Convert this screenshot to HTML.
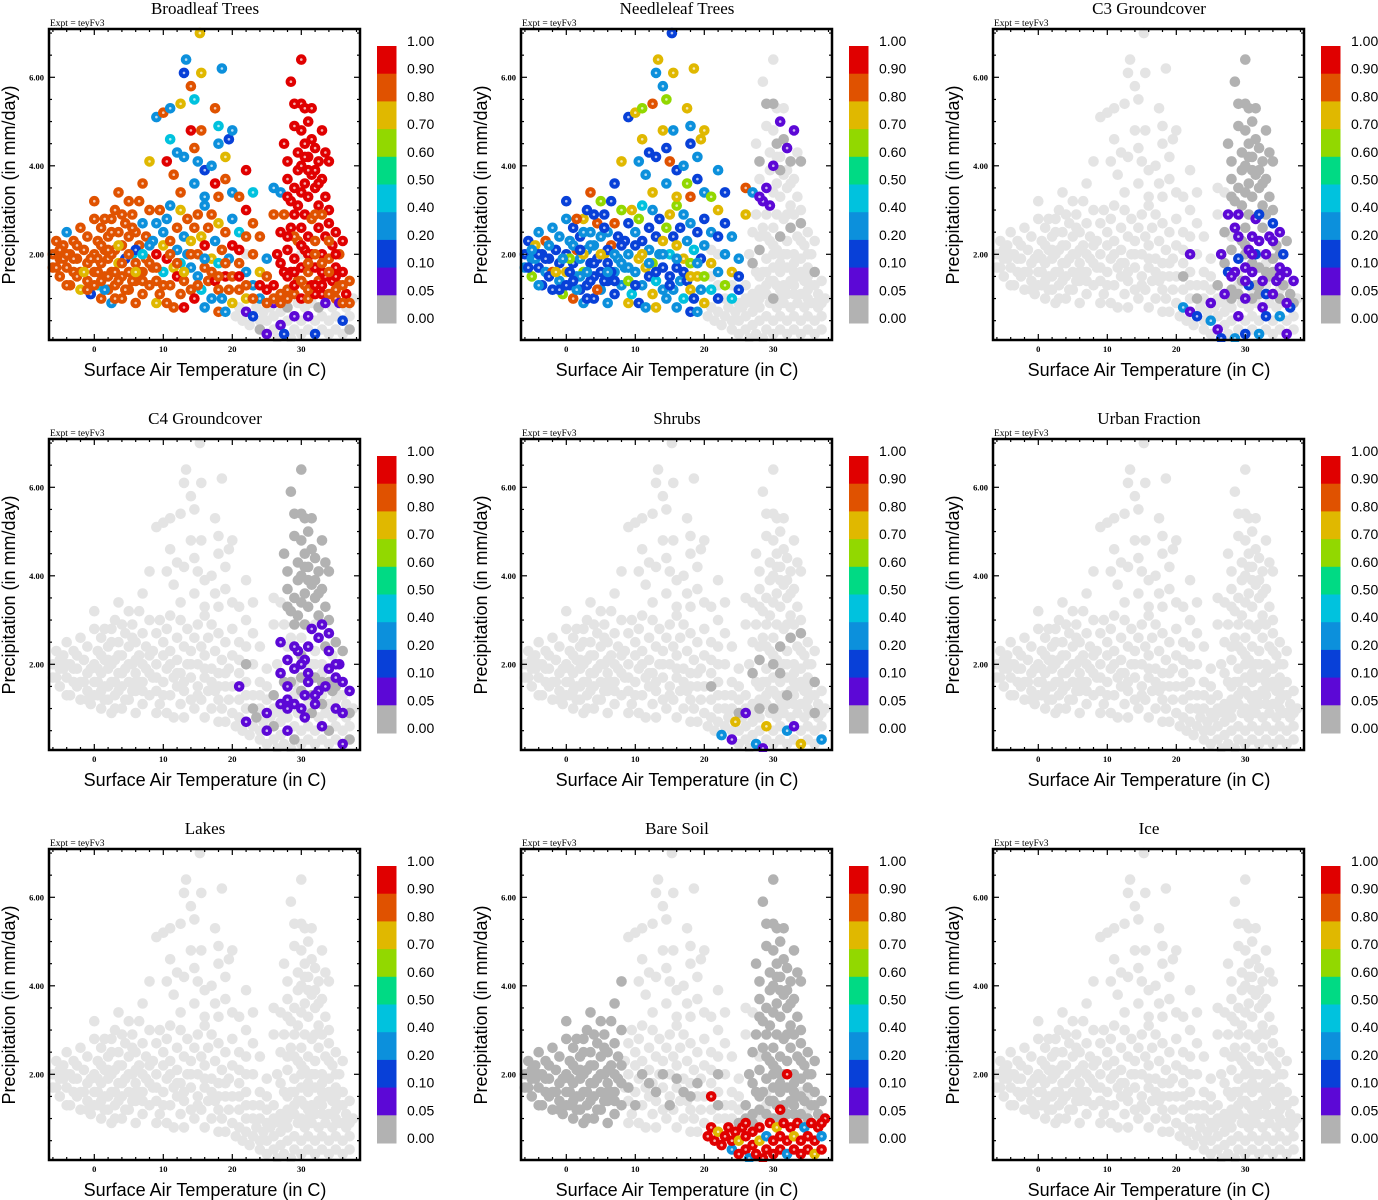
<!DOCTYPE html>
<html><head><meta charset="utf-8"><style>
html,body{margin:0;padding:0;background:#fff;}
svg{display:block;}
</style></head><body>
<svg id="chart" width="1378" height="1200" viewBox="0 0 1378 1200" xmlns="http://www.w3.org/2000/svg"></svg>
<script>
// ---- data ----
const panelTitles=["Broadleaf Trees","Needleleaf Trees","C3 Groundcover","C4 Groundcover","Shrubs","Urban Fraction","Lakes","Bare Soil","Ice"];
const colorbarLabels=["1.00","0.90","0.80","0.70","0.60","0.50","0.40","0.20","0.10","0.05","0.00"];
const xTicks=[0,10,20,30];
const yTicks=[2,4,6];
const yTickLabels=["2.00","4.00","6.00"];
const groupLeft=[[-6,2.0],[-6,1.7],[-5.5,2.3],[-5,1.9],[-5,1.5],[-4.5,2.2],[-4,1.7],[-4,2.5],[-3.5,1.3],[-3.5,2.0],[-3,1.6],[-3,2.3],[-2.5,1.9],[-2,1.2],[-2,2.6],[-2,1.6],[-1.5,2.1],[-1,1.4],[-1,1.8],[-1,2.4],[-0.5,1.1],[0,1.6],[0,2.0],[0,2.8],[0,3.2],[0.5,1.3],[0.5,2.3],[1,1.0],[1,1.8],[1,2.6],[1.5,1.5],[1.5,2.1],[2,1.2],[2,1.9],[2,2.4],[2.5,0.9],[2.5,1.6],[2.5,2.8],[3,1.3],[3,2.1],[3,3.0],[3.5,1.8],[3.5,2.5],[3.5,3.4],[4,1.0],[4,1.5],[4,2.2],[4.5,2.7],[4.5,1.9],[5,1.2],[5,1.6],[5,2.4],[5,3.2],[5.5,2.0],[5.5,2.9],[6,0.9],[6,1.4],[6,1.8],[6,2.5],[6.5,2.2],[6.5,3.2],[7,1.1],[7,1.6],[7,2.7],[7,3.6],[7.5,1.9],[7.5,2.4],[8,1.3],[8,3.0],[8,4.1],[-1,1.2],[1,2.2],[3,1.0],[-3,1.9],[2,1.5],[4.5,1.2],[6,2.1],[0,1.3],[-4.5,1.9],[1.5,2.8],[5.5,1.4],[7,2.0],[3.5,1.4],[-2.5,2.2],[0.5,1.9],[2.5,2.0],[-4,2.0],[-5,2.1],[4,2.9],[6.5,1.6]];
const groupMid=[[8.5,1.7],[8.5,2.3],[9,0.9],[9,1.4],[9,2.0],[9,2.7],[9.5,1.1],[9.5,3.0],[10,1.6],[10,2.2],[10,2.5],[10.5,0.9],[10.5,1.9],[10.5,2.8],[11,1.3],[11,2.3],[11,3.1],[11.5,1.7],[11.5,0.8],[12,1.5],[12,2.1],[12,2.6],[12.5,1.1],[12.5,1.8],[12.5,3.0],[13,2.4],[13,1.4],[13,0.8],[13.5,2.0],[13.5,2.8],[14,1.2],[14,1.7],[14,2.3],[14.5,2.6],[14.5,1.0],[15,1.5],[15,2.0],[15,2.9],[15.5,1.2],[15.5,2.4],[16,0.8],[16,1.7],[16,2.2],[16,3.1],[16.5,1.4],[16.5,2.6],[17,1.0],[17,1.9],[17,2.9],[17.5,1.4],[17.5,2.3],[18,0.7],[18,1.2],[18,1.8],[18,2.7],[18.5,1.0],[18.5,2.1],[19,1.5],[19,0.7],[19,2.5],[19.5,1.2],[19.5,1.9],[20,0.9],[20,1.5],[20,2.2],[20,2.8],[21,1.2],[21,1.8],[21,2.5],[22,1.0],[22,1.6],[22,2.4],[22,3.0],[23,1.3],[23,2.0],[23,2.7],[24,1.0],[24,1.6],[24,2.4],[25,1.2],[25,1.9],[25,1.5]];
const groupUpper=[[9,5.1],[10,5.2],[10.5,4.1],[11,4.6],[11,5.3],[11.5,3.8],[12,4.3],[12.5,5.4],[12.5,3.4],[13,6.1],[13,4.2],[13.3,6.4],[14,5.8],[14,4.8],[14.5,5.5],[14.5,3.6],[14.5,4.4],[15,4.1],[15.5,6.1],[15.5,4.8],[16,3.9],[16,3.3],[17,4.0],[17.5,5.3],[17.5,3.6],[18,4.9],[18,4.5],[18,3.3],[18.5,6.2],[19,4.2],[19,3.7],[19.5,4.6],[20,3.4],[20,4.8],[21,3.3],[22,3.9],[23,3.4],[26,3.5],[26,2.9],[27,3.4],[15.3,7.0]];
const groupLobeTop=[[27.5,4.5],[28,4.1],[28,3.7],[28.5,3.2],[28.5,5.9],[29,5.4],[29,4.9],[29,3.5],[29.5,4.3],[29.5,3.9],[30,6.4],[30,5.4],[30,4.8],[30,4.0],[30.5,5.3],[30.5,4.5],[30.5,3.6],[31,5.0],[31,4.2],[31,3.3],[31.5,5.3],[31.5,4.6],[31.5,3.8],[32,4.4],[32,3.5],[32.5,4.1],[32.5,3.1],[33,4.8],[33,3.7],[33.5,4.3],[33.5,3.3],[34,4.1],[34,3.0],[29.5,3.1],[30,3.4],[31,3.9],[32,3.9],[28,3.3],[30.5,4.2],[32.5,3.6]];
const groupLobeMid=[[26,1.3],[26.5,2.0],[27,1.1],[27,2.5],[27.5,1.6],[27.5,2.9],[28,1.2],[28,2.1],[28.5,1.6],[28.5,2.6],[29,1.1],[29,1.9],[29,2.9],[29.5,1.4],[29.5,2.3],[30,1.0],[30,1.7],[30,2.6],[30.5,1.3],[30.5,2.1],[30.5,2.9],[31,1.0],[31,1.6],[31,2.4],[31.5,1.3],[31.5,2.0],[31.5,2.8],[32,1.1],[32,1.7],[32,2.3],[32.5,1.4],[32.5,2.6],[33,1.1],[33,2.0],[33,2.9],[33.5,1.5],[33.5,2.4],[34,1.1],[34,1.9],[34,2.7],[34.5,1.4],[34.5,2.2],[35,1.0],[35,1.7],[35,2.5],[35.5,1.3],[35.5,2.0],[36,1.6],[36,2.3],[36.5,1.1],[37,1.4],[28,1.5],[30,2.2],[32,2.9],[34,2.3],[27,1.8],[33,1.6],[31,2.0],[29,2.4],[35,2.0]];
const groupBottom=[[20.5,0.6],[21,0.8],[21.5,0.5],[22,0.7],[22.5,0.4],[23,0.6],[23.5,0.8],[24,0.3],[24,0.5],[24.5,0.7],[25,0.2],[25,0.5],[25.5,0.8],[26,0.3],[26,0.6],[26.5,0.1],[27,0.4],[27,0.7],[27.5,0.2],[28,0.5],[28,0.8],[28.5,0.1],[29,0.3],[29,0.6],[29.5,0.9],[30,0.2],[30,0.5],[30.5,0.8],[31,0.3],[31,0.6],[31.5,0.9],[32,0.2],[32,0.5],[32.5,0.8],[33,0.3],[33,0.6],[33.5,0.9],[34,0.2],[34,0.5],[34.5,0.8],[35,0.3],[35,0.6],[35.5,0.9],[36,0.2],[36,0.5],[36.5,0.8],[37,0.3],[37,0.6],[37.5,1.0],[26,0.9]];
const groupFillRight=[[27,0.9],[28,1.0],[29,1.3],[30,1.4],[31,1.2],[32,1.3],[33,1.3],[34,1.5],[35,1.2],[36,0.9],[36,1.3],[37,0.9],[29,1.6],[31,1.8],[33,1.8],[35,1.5],[28,2.4],[30,2.0],[32,2.0],[34,1.6],[26,1.0],[25,0.9],[24,1.3],[23,1.0],[22,1.3],[21,1.5],[21,2.1],[22,2.0]];
const groupFillLeft=[[-5.5,1.7],[-4,1.3],[-2.5,1.5],[-1.5,1.6],[-0.5,1.9],[0.5,1.6],[1.5,1.2],[2,2.1],[3,1.6],[4,1.8],[5,2.0],[6,1.6],[7,1.4],[8,1.8],[8,2.2],[9,1.7],[10,1.3],[11,2.0],[12,1.8],[13,1.6],[14,2.0],[15,1.3],[16,1.9],[17,1.6],[18,1.5],[19,1.8],[1,1.4],[3.5,2.2],[5.5,2.6],[2.5,2.5]];
// category codes per panel per group (cycled): L=not present, 0..9 = colorbar class
const catBroadleaf=["8888888388888788888828888488","837893884738938","38943837823","9","99899889","LLL1L2L0LL1LL","8898899L88","88878838"];
const catNeedleleaf=["2323672322382238","3276324732","2737632873","L0L1L0L1LL","LLLLLLL0","L","LLLL","2327323"];
const catC3=["L","L","L","0","0110210","L3L1L2LLLL","L0L1L0","L"];
const catC4=["L","L","L","0","0L11","LLL1LL0L","L1L0","L"];
const catShrubs=["L","L","L","L","LLLLLLL0","LLLL3LL1L7LLLL","L0LL","L"];
const catUrban=["L","L","L","L","L","L","L","L"];
const catLakes=["L","L","L","L","L","L","L","L"];
const catBareSoil=["0","L","L","0","0","99979993","0LL09L0","0"];
const catIce=["L","L","L","L","L","L","L","L"];
// ---- rendering ----
const groups=[groupLeft,groupMid,groupUpper,groupLobeTop,groupLobeMid,groupBottom,groupFillRight,groupFillLeft];
const panelCats=[catBroadleaf,catNeedleleaf,catC3,catC4,catShrubs,catUrban,catLakes,catBareSoil,catIce];
const classColors={L:"#e4e4e4","0":"#b2b2b2","1":"#5c08d6","2":"#0840d8","3":"#0c90dc","4":"#00c2de","5":"#00da84","6":"#92d800","7":"#e0b800","8":"#e05200","9":"#e00000"};
const barColors=["#e00000","#e05200","#e0b800","#92d800","#00da84","#00c2de","#0c90dc","#0840d8","#5c08d6","#b2b2b2"];
const NS="http://www.w3.org/2000/svg";
const svg=document.getElementById("chart");
function mk(tag,attrs,parent){const e=document.createElementNS(NS,tag);for(const k in attrs)e.setAttribute(k,attrs[k]);parent.appendChild(e);return e;}
const X0=49,X1=360,Y0=29,Y1=340;
function xs(t){return 94.3+t*6.9;}
function ys(p){return 254.3-(p-2)*44.25;}
const ox=[0,472,944],oy=[0,410,820];
panelTitles.forEach((title,pi)=>{
  const g=mk("g",{transform:`translate(${ox[pi%3]},${oy[Math.floor(pi/3)]})`},svg);
  
  
  const t=mk("text",{x:205,y:14,"text-anchor":"middle","font-family":"Liberation Serif, serif","font-size":"17"},g);t.textContent=title;
  
  
  const ex=mk("text",{x:50,y:26,"font-family":"Liberation Serif, serif","font-size":"9.5"},g);ex.textContent="Expt = teyFv3";
  
  
  const clip="clip"+pi;
  const cp=mk("clipPath",{id:clip},g);mk("rect",{x:X0-6,y:Y0-6,width:X1-X0+12,height:Y1-Y0+8},cp);
  const pg=mk("g",{"clip-path":`url(#${clip})`},g);
  
  
  const cats=panelCats[pi];
  const layers=[[],[],[]];
  groups.forEach((grp,gi)=>{const s=cats[gi];grp.forEach((pt,k)=>{const c=s[k%s.length];layers[c==="L"?0:(c==="0"?1:2)].push([pt,c]);});});
  layers.forEach(layer=>layer.forEach(([pt,c])=>{
    const cx=xs(pt[0]),cy=ys(pt[1]);
    const dot=mk("circle",{cx:cx.toFixed(1),cy:cy.toFixed(1),r:5.3,fill:classColors[c]},pg);
    
    
    if(c!=="L"&&c!=="0"){mk("circle",{cx:cx.toFixed(1),cy:cy.toFixed(1),r:1.3,fill:"#ffffff","fill-opacity":"0.7"},pg);}
  }));
  const tk=mk("g",{stroke:"#000","stroke-width":"1.2"},g);
  
  
  for(let v=-6;v<=38;v+=2){const x=xs(v);if(x<X0||x>X1)continue;const L=(v%10===0)?6:3;
    mk("line",{x1:x,y1:Y1,x2:x,y2:Y1-L},tk);mk("line",{x1:x,y1:Y0,x2:x,y2:Y0+L},tk);}
  for(let v=0;v<=7;v+=0.5){const y=ys(v);if(y<Y0||y>Y1)continue;const L=(v%2===0)?6:3;
    mk("line",{x1:X0,y1:y,x2:X0+L,y2:y},tk);mk("line",{x1:X1,y1:y,x2:X1-L,y2:y},tk);}
  mk("rect",{x:X0,y:Y0,width:X1-X0,height:Y1-Y0,fill:"none",stroke:"#000","stroke-width":"2.5"},g);
  xTicks.forEach(v=>{const e=mk("text",{x:xs(v),y:352,"text-anchor":"middle","font-family":"Liberation Serif, serif","font-size":"8.5","font-weight":"bold"},g);e.textContent=v;
    
    });
  yTicks.forEach((v,i)=>{const e=mk("text",{x:44,y:ys(v)+3,"text-anchor":"end","font-family":"Liberation Serif, serif","font-size":"8.5","font-weight":"bold"},g);e.textContent=yTickLabels[i];
    
    });
  const xt=mk("text",{x:205,y:376,"text-anchor":"middle","font-family":"Liberation Sans, sans-serif","font-size":"18"},g);xt.textContent="Surface Air Temperature (in C)";
  
  
  const yt=mk("text",{x:0,y:0,"text-anchor":"middle","font-family":"Liberation Sans, sans-serif","font-size":"18",transform:"translate(15,185) rotate(-90)"},g);yt.textContent="Precipitation (in mm/day)";
  
  
  const cb=mk("g",{},g);
  
  
  const h=27.7;
  barColors.forEach((c,i)=>{const r=mk("rect",{x:377,y:(46+i*h).toFixed(1),width:19.5,height:(h+0.5).toFixed(1),fill:c},cb);
    
    });
  colorbarLabels.forEach((l,i)=>{const e=mk("text",{x:407,y:(46+i*h).toFixed(1),"font-family":"Liberation Sans, sans-serif","font-size":"14"},cb);e.textContent=l;
    
    });
});
</script>
</body></html>
